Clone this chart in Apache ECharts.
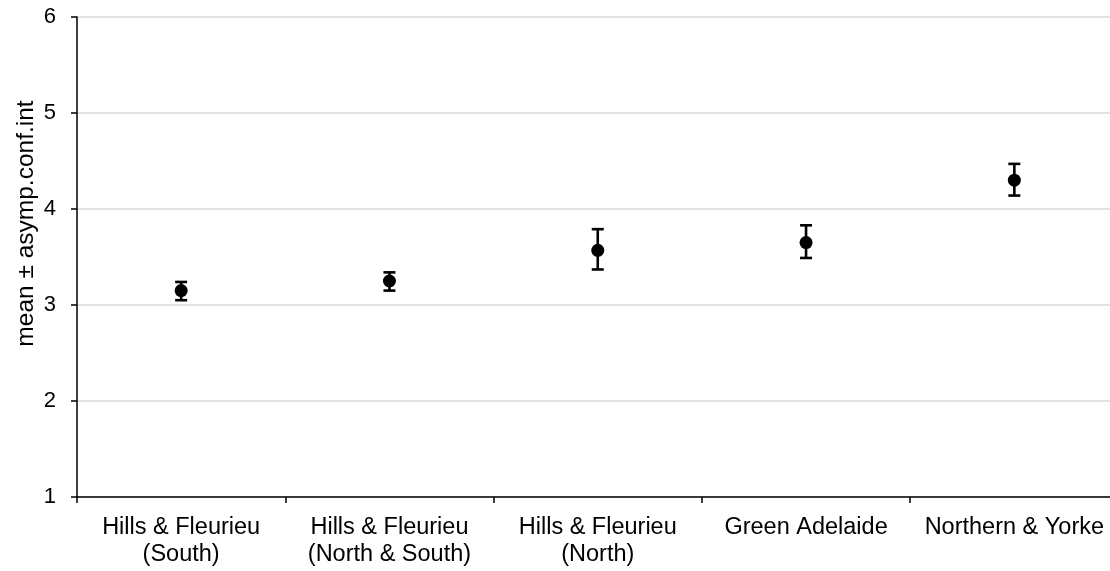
<!DOCTYPE html>
<html>
<head>
<meta charset="utf-8">
<script src="https://cdn.jsdelivr.net/npm/echarts@6/dist/echarts.min.js"></script>
<style>html,body{margin:0;padding:0;background:#fff}#c{width:1110px;height:571px}</style>
</head>
<body>
<div id="c"></div>
<script>
var categories = ['Hills & Fleurieu\n(South)', 'Hills & Fleurieu\n(North & South)', 'Hills & Fleurieu\n(North)', 'Green Adelaide', 'Northern & Yorke'];
var means = [3.15, 3.25, 3.57, 3.65, 4.30];
var lows  = [3.05, 3.15, 3.37, 3.49, 4.14];
var highs = [3.24, 3.34, 3.79, 3.83, 4.47];
var yTicks = [1, 2, 3, 4, 5, 6];

var errData = categories.map(function (c, i) { return [i, lows[i], highs[i]]; });

var chart = echarts.init(document.getElementById('c'));
chart.setOption({
  animation: false,
  grid: { left: 77, top: 17, right: -8.5, bottom: 74, containLabel: false, outerBoundsMode: 'none' },
  xAxis: {
    type: 'category',
    data: categories,
    boundaryGap: true,
    axisLine: { lineStyle: { color: '#000', width: 1.5 } },
    axisTick: { show: true, length: 6, lineStyle: { color: '#000', width: 1.5 } },
    axisLabel: { color: '#000', fontSize: 23.5, fontFamily: 'Liberation Sans, Arial', lineHeight: 27, margin: 17, interval: 0 },
    splitLine: { show: false }
  },
  yAxis: {
    type: 'value',
    min: yTicks[0], max: yTicks[yTicks.length - 1], interval: 1,
    name: 'mean ± asymp.conf.int',
    nameLocation: 'middle',
    nameGap: 38,
    nameMoveOverlap: false,
    nameTextStyle: { color: '#000', fontSize: 24.5, fontFamily: 'Liberation Sans, Arial', padding: [0, 0, 0, 67] },
    axisLine: { show: true, lineStyle: { color: '#000', width: 1.5 } },
    axisTick: { show: true, length: 6, lineStyle: { color: '#000', width: 1.5 } },
    axisLabel: { color: '#000', fontSize: 22, fontFamily: 'Liberation Sans, Arial', margin: 21 },
    splitLine: { show: true, lineStyle: { color: '#d9d9d9', width: 1.5 } }
  },
  series: [
    {
      type: 'custom',
      data: errData,
      renderItem: function (params, api) {
        var x = api.value(0);
        var lo = api.coord([x, api.value(1)]);
        var hi = api.coord([x, api.value(2)]);
        var hw = 6;
        var st = { stroke: '#000', lineWidth: 2.6 };
        return {
          type: 'group',
          children: [
            { type: 'line', shape: { x1: lo[0], y1: lo[1], x2: hi[0], y2: hi[1] }, style: st },
            { type: 'line', shape: { x1: lo[0] - hw, y1: lo[1], x2: lo[0] + hw, y2: lo[1] }, style: st },
            { type: 'line', shape: { x1: hi[0] - hw, y1: hi[1], x2: hi[0] + hw, y2: hi[1] }, style: st }
          ]
        };
      },
      z: 2
    },
    {
      type: 'scatter',
      data: means,
      symbol: 'circle',
      symbolSize: 13,
      itemStyle: { color: '#000', opacity: 1 },
      z: 3
    }
  ]
});
</script>
</body>
</html>
